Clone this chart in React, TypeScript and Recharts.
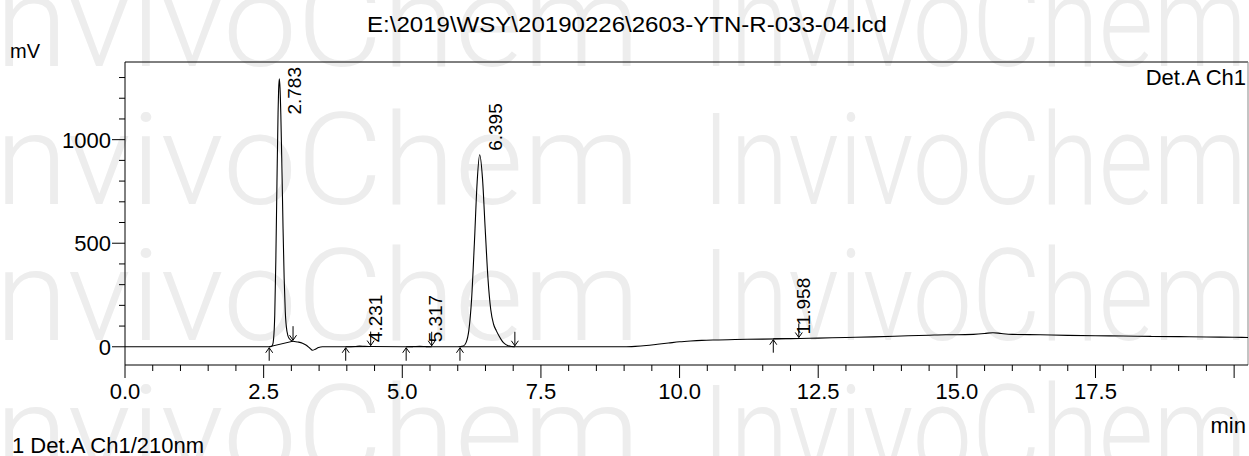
import React from "react";
import {
  ComposedChart,
  Line,
  Scatter,
  XAxis,
  YAxis,
  ReferenceLine,
} from "recharts";

const W = 1249;
const H = 456;
const FONT = "'Liberation Sans', Arial, Helvetica, sans-serif";
const PLOT_TOP = 62;

// retention time (min)
const times = [
  0, 0.5, 1.0, 1.5, 2.0, 2.5, 2.6, 2.64, 2.66, 2.68, 2.7, 2.72, 2.74, 2.76, 2.77,
  2.783, 2.795, 2.81, 2.83, 2.85, 2.87, 2.89, 2.92, 2.96, 3.03, 3.12, 3.2, 3.27,
  3.33, 3.38, 3.43, 3.49, 3.56, 4.0, 4.15, 4.231, 4.32, 4.45, 5.0, 5.2, 5.317,
  5.42, 5.6, 6.0, 6.1, 6.15, 6.2, 6.25, 6.3, 6.35, 6.395, 6.445, 6.495, 6.545,
  6.595, 6.645, 6.695, 6.745, 6.795, 6.845, 6.9, 6.97, 7.05, 7.5, 8.0, 8.5, 9.0,
  9.2, 9.4, 9.6, 9.8, 10.0, 10.2, 10.4, 10.7, 11.0, 11.5, 12.0, 12.5, 13.0, 13.5,
  14.0, 14.5, 14.8, 15.0, 15.3, 15.5, 15.65, 15.8, 16.0, 16.5, 17.0, 17.5, 18.0,
  18.5, 19.0, 19.5, 20.0, 20.25,
];
// detector signal (mV)
const signal = [
  0, 0, 0, 0, 0, 0, 0, 2, 8, 40, 150, 420, 790, 1130, 1240,
  1294, 1250, 1120, 860, 570, 330, 170, 75, 40, 27, 23, 17, 7,
  -6, -17, -12, -4, 0, 0, 1, 3, 2, 1, 0, 1, 2,
  1, 0, 0, 4, 20, 79, 231, 500, 795, 927, 818, 570, 330,
  180, 110, 78, 52, 30, 15, 6, 1, 0, 0, 0, 0, 0,
  2, 6, 12, 18, 24, 28, 31, 33, 35, 37, 39, 42, 45, 48,
  52, 56, 58, 58, 60, 64, 68, 64, 60, 58, 55, 53, 52,
  50, 49, 47, 46, 45,
];

const xTicks = [
  0, 0.5, 1, 1.5, 2, 2.5, 3, 3.5, 4, 4.5, 5, 5.5, 6, 6.5, 7, 7.5, 8, 8.5, 9, 9.5,
  10, 10.5, 11, 11.5, 12, 12.5, 13, 13.5, 14, 14.5, 15, 15.5, 16, 16.5, 17, 17.5,
  18, 18.5, 19, 19.5, 20,
];
const xLabels = ["0.0", "2.5", "5.0", "7.5", "10.0", "12.5", "15.0", "17.5"];
const yTicks = [0, 100, 200, 300, 400, 500, 600, 700, 800, 900, 1000, 1100, 1200, 1300];
const yLabels = ["0", "500", "1000"];

// peak tops
const peakTimes = [2.783, 4.231, 5.317, 6.395, 11.958];
const peakHeights = [1294, 3, 2, 927, 40];
const peakNames = ["2.783", "4.231", "5.317", "6.395", "11.958"];

// integration start / end marks
const startTimes = [2.6, 3.98, 5.07, 6.04, 11.69];
const startLevels = [0, 0, 0, 0, 39];
const endTimes = [3.03, 4.43, 5.53, 7.03, 12.15];
const endLevels = [27, 1, 0, 0, 40];

const XTick = (props: any) => {
  const { x, y, payload } = props;
  const v = payload.value;
  const k = v / 2.5;
  const major = Math.abs(k - Math.round(k)) < 1e-6;
  const label = major ? xLabels[Math.round(k)] : undefined;
  return (
    <g>
      <line x1={x} x2={x} y1={y} y2={y + (major ? 13 : 6)} stroke="#000" />
      {label && (
        <text x={x} y={y + 34} textAnchor="middle" fontSize={22} fontFamily={FONT} fill="#000">
          {label}
        </text>
      )}
    </g>
  );
};

const YTick = (props: any) => {
  const { x, y, payload } = props;
  const v = payload.value;
  const major = v % 500 === 0;
  const label = major ? yLabels[v / 500] : undefined;
  return (
    <g>
      <line x1={x - (major ? 13 : 6)} x2={x} y1={y} y2={y} stroke="#000" />
      {label && (
        <text x={x - 14} y={y + 8} textAnchor="end" fontSize={22} fontFamily={FONT} fill="#000">
          {label}
        </text>
      )}
    </g>
  );
};

const UpArrow = (props: any) => {
  const { cx, cy } = props;
  return (
    <path
      d={`M${cx},${cy + 1} L${cx},${cy + 14} M${cx - 3.5},${cy + 6} L${cx},${cy + 1} L${cx + 3.5},${cy + 6}`}
      stroke="#000"
      fill="none"
      strokeWidth={1}
    />
  );
};

const DownArrow = (props: any) => {
  const { cx, cy } = props;
  return (
    <path
      d={`M${cx},${cy - 1} L${cx},${cy - 15} M${cx - 3.5},${cy - 6} L${cx},${cy - 1} L${cx + 3.5},${cy - 6}`}
      stroke="#000"
      fill="none"
      strokeWidth={1}
    />
  );
};

const PeakLabel = (props: any) => {
  const { cx, cy, payload } = props;
  const fs = 19;
  const len = payload.name.length * 0.556 * fs - 0.278 * fs;
  const bottom = Math.max(cy - 4, PLOT_TOP + 5 + len);
  const x = cx + 22;
  return (
    <text
      x={x}
      y={bottom}
      transform={`rotate(-90, ${x}, ${bottom})`}
      fontSize={fs}
      fontFamily={FONT}
      fill="#000"
    >
      {payload.name}
    </text>
  );
};

export default function App() {
  const trace = times.map((t, i) => ({ t, v: signal[i] }));
  const peaks = peakTimes.map((t, i) => ({ t, v: peakHeights[i], name: peakNames[i] }));
  const starts = startTimes.map((t, i) => ({ t, v: startLevels[i] }));
  const ends = endTimes.map((t, i) => ({ t, v: endLevels[i] }));

  // watermark rows
  const wmRows = [66, 204, 340, 476];

  return (
    <div style={{ position: "relative", width: W, height: H, background: "#fff" }}>
      <style>{"body{margin:0}"}</style>
      <svg width={W} height={H} style={{ position: "absolute", left: 0, top: 0 }}>
        {wmRows.map((y) => (
          <g key={y} fill="#ededed" fontFamily="Roboto, 'Liberation Sans', sans-serif" fontWeight={300} fontSize={128}>
            <text x={-40} y={y} textLength={680} lengthAdjust="spacingAndGlyphs">
              InvivoChem
            </text>
            <text x={702} y={y} textLength={545} lengthAdjust="spacingAndGlyphs">
              InvivoChem
            </text>
          </g>
        ))}
      </svg>
      <div style={{ position: "absolute", left: 0, top: 0 }}>
        <ComposedChart
          width={W}
          height={H}
          data={trace}
          margin={{ top: PLOT_TOP, right: 1, bottom: 0, left: 0 }}
        >
          <XAxis
            dataKey="t"
            type="number"
            domain={[0, 20.25]}
            allowDataOverflow
            ticks={xTicks}
            interval={0}
            tickSize={0}
            tickMargin={0}
            tickLine={false}
            tick={<XTick />}
            axisLine={{ stroke: "#000" }}
            height={91}
          />
          <YAxis
            dataKey="v"
            type="number"
            domain={[-88, 1375]}
            allowDataOverflow
            ticks={yTicks}
            interval={0}
            tickSize={0}
            tickMargin={0}
            tickLine={false}
            tick={<YTick />}
            axisLine={{ stroke: "#000" }}
            width={125}
          />
          <ReferenceLine y={1375} stroke="#000" />
          <ReferenceLine x={20.25} stroke="#888" />
          {startTimes.map((t, i) => (
            <ReferenceLine
              key={`bl-${i}`}
              segment={[
                { x: t, y: startLevels[i] },
                { x: endTimes[i], y: endLevels[i] },
              ]}
              stroke="#000"
              strokeWidth={1}
            />
          ))}
          <Line
            type="monotone"
            dataKey="v"
            stroke="#000"
            strokeWidth={1.1}
            dot={false}
            activeDot={false}
            isAnimationActive={false}
          />
          <Scatter data={starts} dataKey="v" shape={<UpArrow />} isAnimationActive={false} />
          <Scatter data={ends} dataKey="v" shape={<DownArrow />} isAnimationActive={false} />
          <Scatter data={peaks} dataKey="v" shape={<PeakLabel />} isAnimationActive={false} />
        </ComposedChart>
      </div>
      <svg
        width={W}
        height={H}
        style={{ position: "absolute", left: 0, top: 0, pointerEvents: "none" }}
        fontFamily={FONT}
      >
        <text x={367} y={32} fontSize={22} fill="#000" textLength={520} lengthAdjust="spacingAndGlyphs">
          E:\2019\WSY\20190226\2603-YTN-R-033-04.lcd
        </text>
        <text x={10} y={58} fontSize={20} fill="#000">
          mV
        </text>
        <text x={1246} y={85} textAnchor="end" fontSize={22} fill="#000">
          Det.A Ch1
        </text>
        <text x={1246} y={433} textAnchor="end" fontSize={22} fill="#000">
          min
        </text>
        <text x={12} y={453} fontSize={22} fill="#000">
          1 Det.A Ch1/210nm
        </text>
      </svg>
    </div>
  );
}
